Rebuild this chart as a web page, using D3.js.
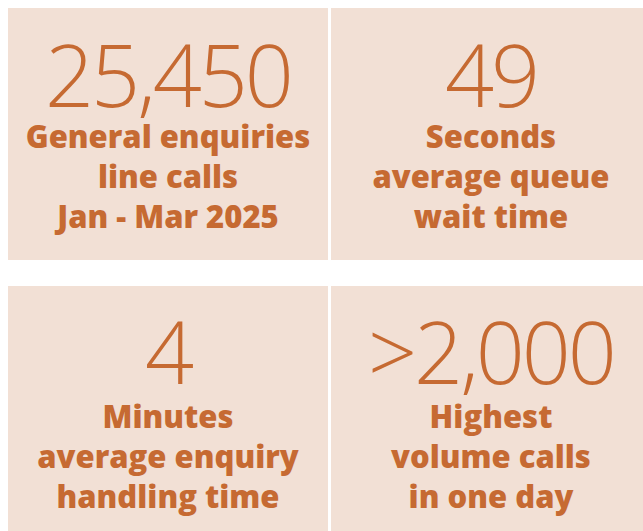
<!DOCTYPE html>
<html>
<head>
<meta charset="utf-8">
<script src="https://cdn.jsdelivr.net/npm/d3@7"></script>
<style>
  body { margin: 0; background: #fff; }
  svg { display: block; }
</style>
</head>
<body>
<div id="chart"></div>
<script>
// Data
var figures = ["25,450", "49", "4", ">2,000"];
var labels = [
    ["General enquiries", "line calls", "Jan - Mar 2025"],
    ["Seconds", "average queue", "wait time"],
    ["Minutes", "average enquiry", "handling time"],
    ["Highest", "volume calls", "in one day"]
];

// Setup
var width = 643, height = 531;
var bg_color = "#f2e0d5";
var text_color = "#c66a32";

var colX = [8, 331], colW = [320, 320];
var rowY = [8, 286], rowH = [252, 252];

var svg = d3.select("#chart")
    .append("svg")
    .attr("width", width)
    .attr("height", height);

var tiles = svg.selectAll("g.tile")
    .data(figures.map((f, i) => ({ figure: f, lines: labels[i], col: i % 2, row: Math.floor(i / 2) })))
    .enter()
    .append("g")
    .attr("class", "tile")
    .attr("transform", d => `translate(${colX[d.col]}, ${rowY[d.row]})`);

tiles.append("rect")
    .attr("width", d => colW[d.col])
    .attr("height", d => rowH[d.row])
    .attr("fill", bg_color);

//Big number
tiles.append("text")
    .attr("x", 160)
    .attr("y", d => d.row === 0 ? 99 : 98)
    .attr("text-anchor", "middle")
    .attr("fill", text_color)
    .style("font-family", "'Open Sans', sans-serif")
    .style("font-weight", 300)
    .style("font-size", "86px")
    .style("letter-spacing", "-3px")
    .text(d => d.figure);

//Label lines
tiles.each(function (d) {
    var base = d.row === 0 ? 140 : 142;
    d3.select(this).selectAll("text.label")
        .data(d.lines)
        .enter()
        .append("text")
        .attr("class", "label")
        .attr("x", 160)
        .attr("y", (l, j) => base + j * 40)
        .attr("text-anchor", "middle")
        .attr("fill", text_color)
        .style("font-family", "'Open Sans', sans-serif")
        .style("font-weight", 800)
        .style("font-size", "31px")
        .text(l => l);
});
</script>
</body>
</html>
